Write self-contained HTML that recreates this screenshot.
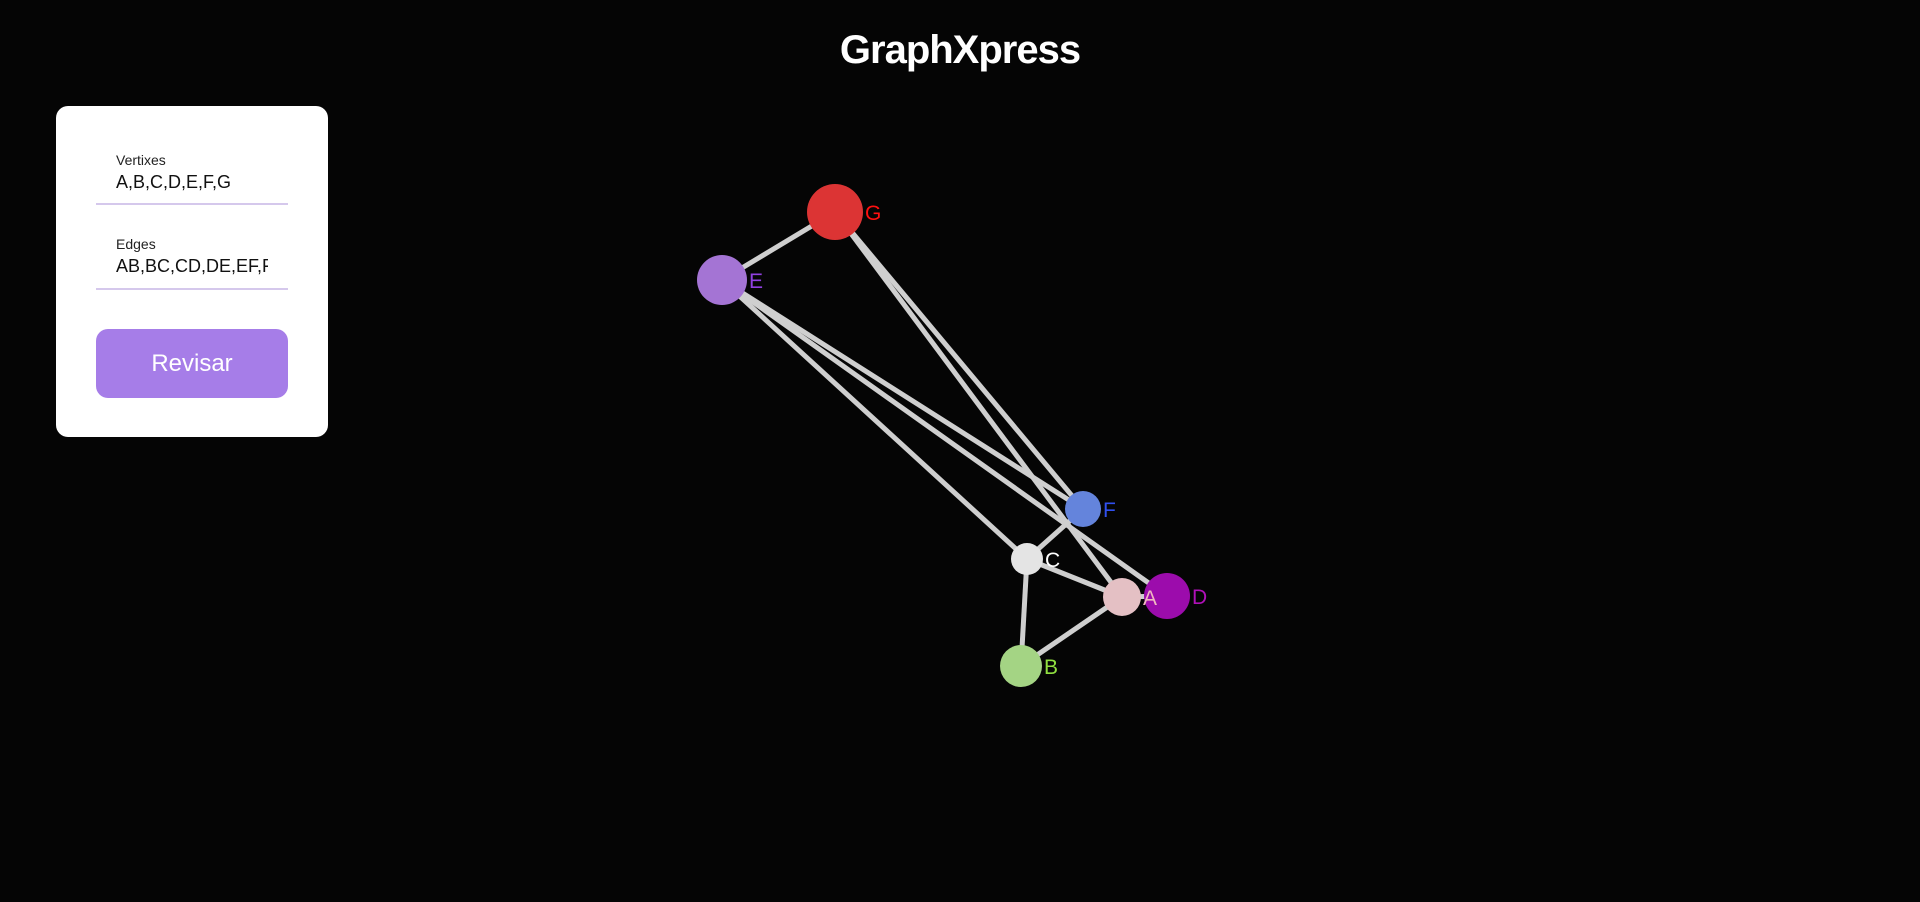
<!DOCTYPE html>
<html><head><meta charset="utf-8"><style>
html,body{margin:0;padding:0;background:#050505;width:1920px;height:902px;overflow:hidden;font-family:"Liberation Sans",sans-serif}
#title{position:absolute;left:0;width:1920px;top:28px;text-align:center;color:#fff;font-weight:bold;font-size:40px;letter-spacing:-1px}
#panel{position:absolute;left:56px;top:106px;width:272px;height:331px;background:#fff;border-radius:12px}
.lbl{position:absolute;left:60px;font-size:14px;color:#222}
.val{position:absolute;left:60px;font-size:18px;color:#111;width:152px;overflow:hidden;white-space:nowrap}
.line{position:absolute;left:40px;width:192px;height:2px;background:#d5c8ec}
#btn{position:absolute;left:40px;top:223px;width:192px;height:69px;background:#a67de8;border-radius:12px;color:#fff;font-size:24px;text-align:center;line-height:69px}
svg{position:absolute;left:0;top:0}
</style></head><body>
<div id="title">GraphXpress</div>
<div id="panel">
<div class="lbl" style="top:46px">Vertixes</div>
<div class="val" style="top:66px">A,B,C,D,E,F,G</div>
<div class="line" style="top:97px"></div>
<div class="lbl" style="top:130px">Edges</div>
<div class="val" style="top:150px;width:152px">AB,BC,CD,DE,EF,FG</div>
<div class="line" style="top:182px"></div>
<div id="btn">Revisar</div>
</div>
<svg id="g" width="1920" height="902"></svg>
<script>
const names=["A","B","C","D","E","F","G"];
const xs=[1122,1021,1027,1167,722,1083,835];
const ys=[597,666,559,596,280,509,212];
const rs=[19,21,16,23,25,18,28];
const fills=["#e4c0c4","#a4d484","#e4e4e4","#9c0cac","#a474d4","#6484dc","#dc3434"];
const labelColors=["#f0b8c0","#90e040","#ffffff","#b010b8","#9040e0","#3050f0","#ff1010"];
const edges=[["G","E"],["G","F"],["G","A"],["E","F"],["E","D"],["E","C"],["C","F"],["C","A"],["C","B"],["B","A"],["A","D"]];
const svg=document.getElementById('g');
const NS="http://www.w3.org/2000/svg";
const idx=n=>names.indexOf(n);
edges.forEach(e=>{
 const a=idx(e[0]),b=idx(e[1]);
 const l=document.createElementNS(NS,'line');
 l.setAttribute('x1',xs[a]);l.setAttribute('y1',ys[a]);l.setAttribute('x2',xs[b]);l.setAttribute('y2',ys[b]);
 l.setAttribute('stroke','#cfcfcf');l.setAttribute('stroke-width','5');
 
 
 svg.appendChild(l);
});
names.forEach((n,i)=>{
 const c=document.createElementNS(NS,'circle');
 c.setAttribute('cx',xs[i]);c.setAttribute('cy',ys[i]);c.setAttribute('r',rs[i]);
 c.setAttribute('fill',fills[i]);
 
 
 svg.appendChild(c);
});
names.forEach((n,i)=>{
 const t=document.createElementNS(NS,'text');
 t.setAttribute('x',xs[i]+rs[i]+2);t.setAttribute('y',ys[i]+8);
 t.setAttribute('fill',labelColors[i]);t.setAttribute('font-size','21');
 t.setAttribute('font-family','Liberation Sans, sans-serif');
 t.textContent=n;
 
 
 svg.appendChild(t);
});
</script>
</body></html>
